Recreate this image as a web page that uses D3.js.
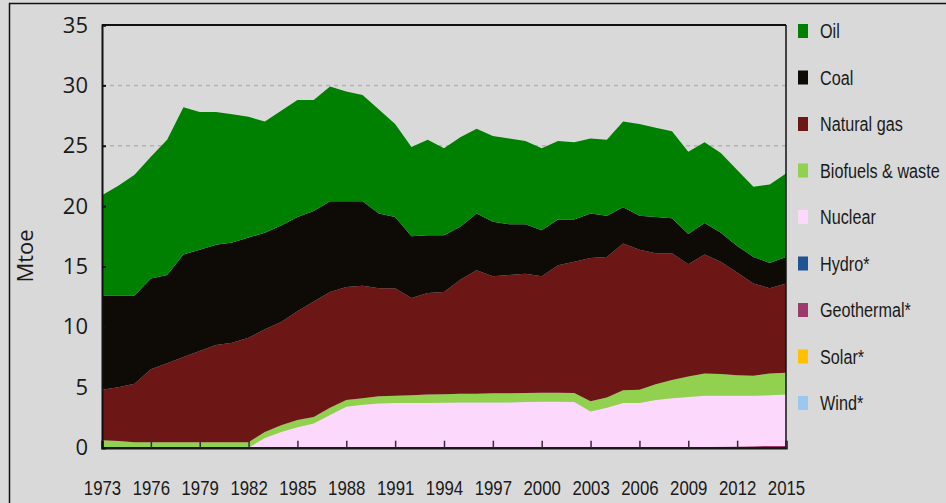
<!DOCTYPE html>
<html>
<head>
<meta charset="utf-8">
<script src="https://cdn.jsdelivr.net/npm/d3@7"></script>
<style>
  html, body { margin: 0; padding: 0; background: #dadada; }
  svg { display: block; }
</style>
</head>
<body>
<svg id="chart" width="946" height="503"></svg>
<script>
// ---------------- DATA ----------------
const years = d3.range(1973, 2016);
const oil = [8.3, 9.1, 10.0, 10.1, 11.2, 12.2, 11.4, 11.0, 10.6, 10.0, 9.2, 9.5, 9.7, 9.2, 9.5, 9.1, 8.8, 8.6, 7.7, 7.4, 7.9, 7.2, 7.4, 7.0, 7.1, 7.1, 6.9, 6.8, 6.5, 6.4, 6.2, 6.3, 7.1, 7.6, 7.4, 7.2, 6.8, 6.7, 6.6, 6.3, 5.8, 6.5, 6.9];
const coal = [7.8, 7.6, 7.3, 7.5, 7.3, 8.5, 8.4, 8.3, 8.3, 8.3, 8.0, 8.0, 7.8, 7.5, 7.5, 7.1, 7.0, 6.2, 5.9, 5.1, 4.8, 4.7, 4.4, 4.7, 4.5, 4.2, 4.1, 3.8, 3.8, 3.5, 3.7, 3.4, 3.0, 2.8, 3.0, 2.9, 2.5, 2.6, 2.4, 2.2, 2.2, 2.1, 2.2];
const naturalGas = [4.18, 4.45, 4.85, 6.05, 6.55, 7.05, 7.55, 8.05, 8.25, 8.65, 8.5, 8.55, 9.0, 9.55, 9.6, 9.35, 9.3, 8.95, 8.9, 8.05, 8.4, 8.48, 9.43, 10.23, 9.7, 9.8, 9.87, 9.65, 10.55, 10.87, 11.85, 11.65, 12.15, 11.6, 10.85, 10.5, 9.3, 9.85, 9.3, 8.5, 7.65, 7.05, 7.4];
const biofuels = [0.62, 0.55, 0.45, 0.45, 0.45, 0.45, 0.45, 0.45, 0.45, 0.45, 0.5, 0.55, 0.6, 0.55, 0.6, 0.55, 0.55, 0.6, 0.6, 0.65, 0.7, 0.7, 0.72, 0.72, 0.75, 0.75, 0.75, 0.75, 0.75, 0.75, 0.85, 0.85, 1.05, 1.1, 1.3, 1.5, 1.7, 1.85, 1.8, 1.7, 1.65, 1.8, 1.8];
const nuclear = [0, 0, 0, 0, 0, 0, 0, 0, 0, 0, 0.8, 1.3, 1.7, 2.0, 2.7, 3.4, 3.55, 3.65, 3.7, 3.7, 3.7, 3.72, 3.75, 3.75, 3.75, 3.75, 3.78, 3.8, 3.8, 3.78, 3.0, 3.3, 3.7, 3.7, 3.95, 4.1, 4.17, 4.25, 4.23, 4.2, 4.18, 4.21, 4.25];
const hydro = years.map(() => 0);
const geothermal = [0, 0, 0, 0, 0, 0, 0, 0, 0, 0, 0, 0, 0, 0, 0, 0, 0, 0, 0, 0, 0, 0, 0, 0, 0, 0, 0, 0, 0, 0, 0, 0, 0, 0, 0, 0, 0.03, 0.05, 0.07, 0.1, 0.12, 0.14, 0.15];
const solar = years.map(() => 0);
const wind = years.map(() => 0);

const legendLabels = ["Oil", "Coal", "Natural gas", "Biofuels & waste", "Nuclear", "Hydro*", "Geothermal*", "Solar*", "Wind*"];
const legendColors = ["#008000", "#0e0a06", "#6c1616", "#92d050", "#fdd8fd", "#1f5391", "#9b3a6b", "#ffc000", "#9cc8ef"];
const yTicks = [0, 5, 10, 15, 20, 25, 30, 35];
const xTicks = d3.range(1973, 2016, 3);
const yTitle = "Mtoe";

// ---------------- BUILD ----------------
(function () {
const seriesArrays = [oil, coal, naturalGas, biofuels, nuclear, hydro, geothermal, solar, wind];
const keys = legendLabels.slice();
const rows = years.map((yr, i) => {
  const r = { year: yr };
  keys.forEach((k, j) => { r[k] = seriesArrays[j][i]; });
  return r;
});
const stackKeys = keys.slice().reverse(); // bottom: Wind ... top: Oil
const color = d3.scaleOrdinal().domain(keys).range(legendColors);

const svg = d3.select("#chart");
const W = 946, H = 503;
const pLeft = 102, pRight = 786, pTop = 25, pBottom = 447.7;
const narrowFont = "'Liberation Sans', Arial, sans-serif";

const x = d3.scaleLinear().domain([1973, 2015]).range([pLeft, pRight]);
const y = d3.scaleLinear().domain([0, 35]).range([pBottom, pTop]);

// frame
svg.append("rect").attr("x", 9.5).attr("y", 3.5).attr("width", W).attr("height", H)
  .attr("fill", "#d9d9d9").attr("stroke", "#111").attr("stroke-width", 1.5);

// gridlines
svg.append("g").selectAll("line").data(yTicks.filter(d => d > 0 && d < 35)).join("line")
  .attr("x1", pLeft).attr("x2", pRight)
  .attr("y1", d => y(d)).attr("y2", d => y(d))
  .attr("stroke", "#b3b3b3").attr("stroke-width", 1.5).attr("stroke-dasharray", "4,4");

// areas
const stacked = d3.stack().keys(stackKeys)(rows);
const area = d3.area()
  .x(d => x(d.data.year))
  .y0(d => y(d[0]))
  .y1(d => y(d[1]));
svg.append("g").selectAll("path").data(stacked).join("path")
  .attr("d", area)
  .attr("fill", d => color(d.key))
  .attr("stroke", "none");

// top and right border
svg.append("line").attr("x1", pLeft).attr("x2", pRight).attr("y1", pTop).attr("y2", pTop)
  .attr("stroke", "#111").attr("stroke-width", 2);
svg.append("line").attr("x1", pRight).attr("x2", pRight).attr("y1", pTop).attr("y2", pBottom)
  .attr("stroke", "#111").attr("stroke-width", 1.5);

// x axis
const xAxis = d3.axisBottom(x).tickValues(xTicks).tickFormat(d3.format("d"))
  .tickSize(-7).tickPadding(32);
const gx = svg.append("g").attr("transform", `translate(0,${pBottom})`).call(xAxis);
gx.select(".domain").attr("stroke", "#1a1a1a").attr("stroke-width", 2.5);
gx.selectAll(".tick line").attr("stroke", "#3a2a3a").attr("stroke-width", 1.5);
gx.selectAll(".tick text")
  .attr("font-family", narrowFont)
  .attr("font-size", 21).attr("fill", "#1a1a1a")
  .attr("transform", "scale(0.8,1)");

// y axis
const yAxis = d3.axisLeft(y).tickValues(yTicks).tickFormat(d3.format("d"))
  .tickSize(-4).tickPadding(14);
const gy = svg.append("g").attr("transform", `translate(${pLeft},0)`).call(yAxis);
gy.select(".domain").attr("stroke", "#111").attr("stroke-width", 2);
gy.selectAll(".tick line").attr("stroke", "#111").attr("stroke-width", 2);
gy.selectAll(".tick text")
  .attr("font-family", "'Open Sans', 'Noto Sans', sans-serif")
  .attr("font-size", 22).attr("fill", "#1a1a1a");

// y title
svg.append("text")
  .attr("transform", `translate(33,256) rotate(-90)`)
  .attr("text-anchor", "middle")
  .attr("font-family", "'Open Sans', 'Noto Sans', sans-serif")
  .attr("font-size", 22).attr("fill", "#1a1a1a")
  .text(yTitle);

// legend
const legend = svg.append("g").selectAll("g").data(keys).join("g")
  .attr("transform", (d, i) => `translate(798,${31 + i * 46.5})`);
legend.append("rect").attr("x", 0).attr("y", -7).attr("width", 10).attr("height", 14)
  .attr("fill", d => color(d));
legend.append("text").attr("x", 0).attr("y", 0).attr("dy", "0.36em")
  .attr("transform", "translate(22,0) scale(0.81,1)")
  .attr("font-family", narrowFont)
  .attr("font-size", 20).attr("fill", "#1a1a1a")
  .text(d => d);
})();
</script>
</body>
</html>
